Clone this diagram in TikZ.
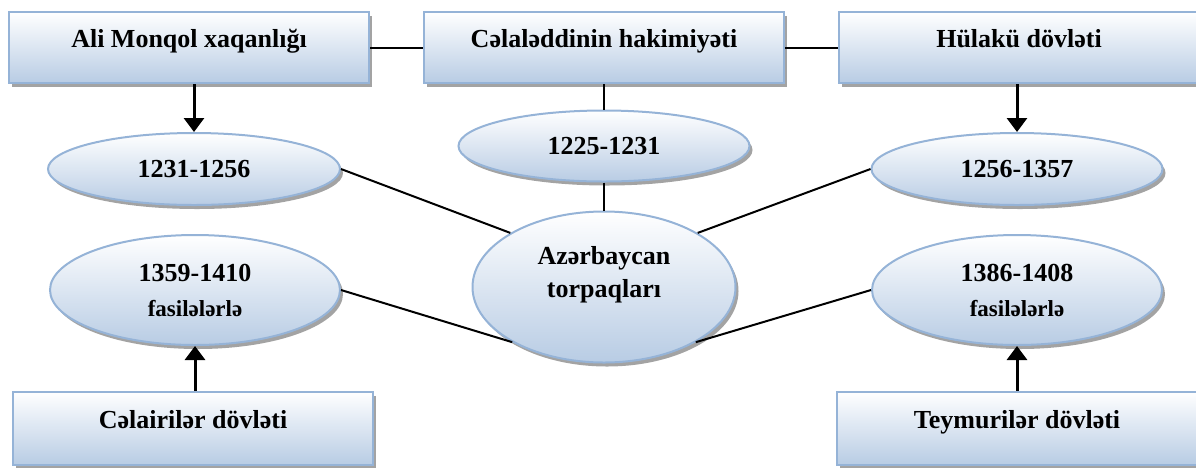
\documentclass[tikz,border=0pt]{standalone}
\usepackage{fontspec}
\setmainfont{Liberation Serif}
\usepackage{tikz}
\usetikzlibrary{arrows.meta,positioning,shapes.geometric,shadows}

\definecolor{edgeblue}{HTML}{95B3D7}
\definecolor{fillblue}{HTML}{B8CCE4}

\begin{document}
\begin{tikzpicture}[x=1pt, y=1pt,
    box/.style={draw=edgeblue, line width=2pt, top color=white, bottom color=fillblue,
      minimum width=360pt, minimum height=71pt, inner sep=0pt,
      text height=9pt, text depth=9pt,
      font=\bfseries\fontsize{26}{33}\selectfont,
      drop shadow={shadow xshift=3pt, shadow yshift=-4pt, fill=black!45, opacity=.8}},
    oval/.style={ellipse, draw=edgeblue, line width=2pt, top color=white, bottom color=fillblue,
      inner sep=0pt, align=center,
      font=\bfseries\fontsize{26}{33}\selectfont,
      drop shadow={shadow xshift=3pt, shadow yshift=-4pt, fill=black!45, opacity=.8}},
    line/.style={line width=2pt},
    arr/.style={line width=3pt, -{Triangle[width=20pt,length=14pt]}}]
    \useasboundingbox (0,0) rectangle (1196,-467);
    % top row
    \node[box] (mongol) at (189,-47.5) {Ali Monqol xaqanlığı};
    \node[box] (celal) at (604,-47.5) {Cəlaləddinin hakimiyəti};
    \node[box] (hulaku) at (1019,-47.5) {Hülakü dövləti};
    % dates
    \node[oval, minimum width=292pt, minimum height=72pt] (e1231) at (194,-169) {1231-1256};
    \node[oval, minimum width=291pt, minimum height=71pt] (e1225) at (604,-146) {1225-1231};
    \node[oval, minimum width=291pt, minimum height=72pt] (e1256) at (1017,-169) {1256-1357};
    \node[oval, minimum width=290pt, minimum height=110pt] (e1359) at (195,-290)
      {1359-1410\\[2pt]{\fontsize{23}{28}\selectfont fasilələrlə}};
    \node[oval, minimum width=290pt, minimum height=110pt] (e1386) at (1017,-290)
      {1386-1408\\[2pt]{\fontsize{23}{28}\selectfont fasilələrlə}};
    \node[oval, minimum width=263pt, minimum height=151pt, text depth=30pt] (az) at (604,-287)
      {Azərbaycan\\torpaqları};
    % bottom row
    \node[box, minimum height=73pt] (celair) at (193,-428) {Cəlairilər dövləti};
    \node[box, minimum height=73pt] (teymur) at (1017,-428) {Teymurilər dövləti};
    % connectors
    \draw[line] (mongol) -- (celal);
    \draw[line] (celal) -- (hulaku);
    \draw[line] (celal.south) -- (e1225.north);
    \draw[line] (e1225.south) -- (az.north);
    \draw[line] (e1231.east) -- (az.150);
    \draw[line] (e1256.west) -- (az.30);
    \draw[line] (e1359.east) -- (az.211);
    \draw[line] (e1386.west) -- (az.329);
    \draw[arr] (mongol.south -| e1231) -- (e1231.north);
    \draw[arr] (hulaku.south -| e1256) -- (e1256.north);
    \draw[arr] (celair.north -| e1359) -- (e1359.south);
    \draw[arr] (teymur.north -| e1386) -- (e1386.south);
\end{tikzpicture}
\end{document}
